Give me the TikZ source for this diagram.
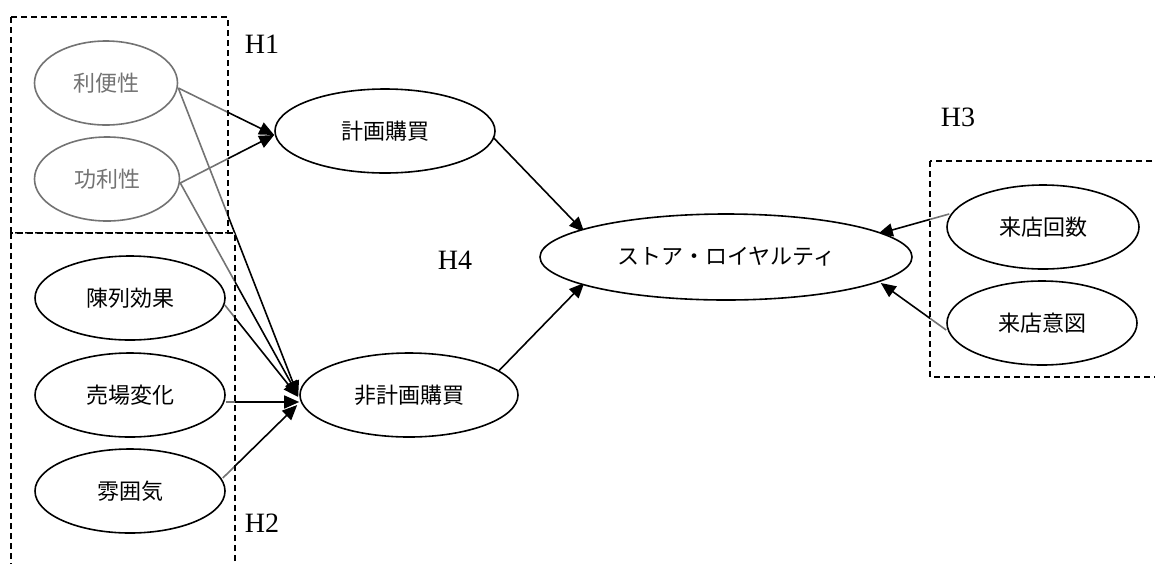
\documentclass[tikz,border=0pt]{standalone}
\usepackage{fontspec}
\newfontfamily\jp{Noto Sans CJK JP}
\newfontfamily\hfont{Liberation Serif}
\usetikzlibrary{shapes.geometric,arrows.meta,calc}
\pgfdeclarelayer{lines}
\pgfdeclarelayer{mid}
\pgfsetlayers{lines,mid,main}
\begin{document}
\begin{tikzpicture}[x=1pt,y=-1pt,
  ell/.style={ellipse, draw, line width=1.6pt, minimum height=84pt, inner sep=0pt, fill=white,
    font=\fontsize{22}{24}\selectfont\jp},
  conn/.style={line width=1.6pt, -{Triangle[length=15pt,width=13pt]}},
  hbox/.style={draw, dash pattern=on 6pt off 4pt, line width=1.5pt, fill=white, fill opacity=0.45},
  hlab/.style={font=\fontsize{28}{30}\selectfont\hfont, inner sep=0pt}]
\useasboundingbox (0,0) rectangle (1155,563);

\begin{pgfonlayer}{mid}
  \node[ell, minimum width=143pt] (rb) at (106,83) {利便性};
  \node[ell, minimum width=145pt] (kr) at (107,179) {功利性};
  \path[hbox] (11,17) rectangle (228,233);
  \path[hbox] (11,233) rectangle (235,590);
  \path[hbox] (930,161) rectangle (1175,377);
\end{pgfonlayer}

\node[ell, minimum width=190pt] (cr) at (130,298) {陳列効果};
\node[ell, minimum width=190pt] (ub) at (130,395) {売場変化};
\node[ell, minimum width=190pt] (fi) at (130,491) {雰囲気};
\node[ell, minimum width=220pt] (pl) at (385,131) {計画購買};
\node[ell, minimum width=218pt] (np) at (409,395) {非計画購買};
\node[ell, minimum width=372pt, minimum height=86pt] (st) at (726,257) {ストア・ロイヤルティ};
\node[ell, minimum width=192pt] (rk) at (1043,227) {来店回数};
\node[ell, minimum width=190pt] (ri) at (1042,323) {来店意図};

\node[hlab] (h1) at (262,44) {H1};
\node[hlab] (h2) at (262,523) {H2};
\node[hlab] (h3) at (958,117) {H3};
\node[hlab] (h4) at (455,260) {H4};

\begin{pgfonlayer}{lines}
  \draw[conn] ($(rb.east)+(0,5)$) -- ($(pl.west)+(0,4)$);
  \draw[conn] ($(kr.east)+(0,4)$) -- ($(pl.west)+(0,4)$);
  \draw[conn] ($(rb.east)+(0,5)$) -- ($(np.west)+(-1,1)$);
  \draw[conn] ($(kr.east)+(0,4)$) -- ($(np.west)+(-1,1)$);
  \draw[conn] ($(cr.east)+(-1,7)$) -- ($(np.west)+(-1,2)$);
  \draw[conn] ($(ub.east)+(0,7)$) -- ($(np.west)+(0,7)$);
  \draw[conn] ($(fi.east)+(-3,-13)$) -- ($(np.west)+(-2,10)$);
  \draw[conn] ($(pl.east)+(-3,6)$) -- ($(st.west)+(45,-25)$);
  \draw[conn] ($(np.east)+(-26,-18)$) -- ($(st.west)+(45,26)$);
  \draw[conn] ($(rk.west)+(3,-13)$) -- ($(st.east)+(-35,-23)$);
  \draw[conn] ($(ri.west)+(0,7)$) -- ($(st.east)+(-32,26)$);
\end{pgfonlayer}
\end{tikzpicture}
\end{document}
